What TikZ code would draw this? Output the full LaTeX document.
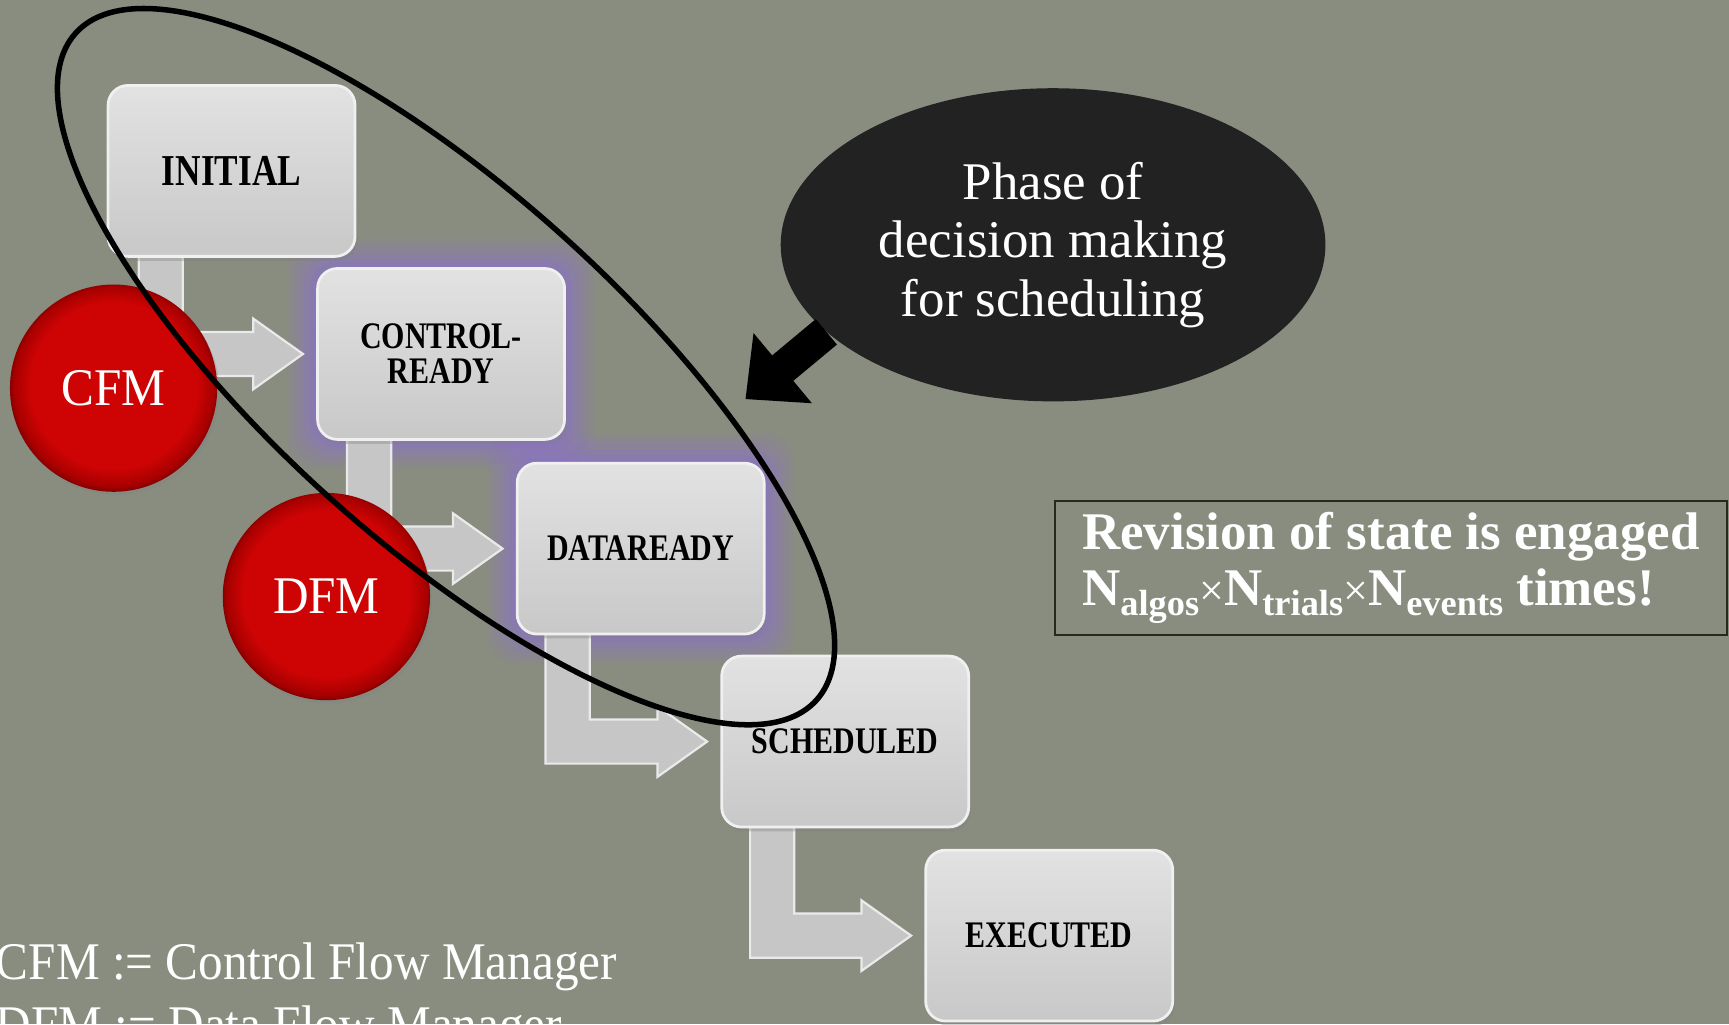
\documentclass[tikz,border=0pt]{standalone}
\usepackage{fontspec}
\usepackage{graphicx}
\setmainfont{Liberation Serif}
\newfontfamily\lblfont[FakeStretch=0.8]{Liberation Serif}
\newfontfamily\cndfont[FakeStretch=0.93]{Liberation Serif}
\usetikzlibrary{shapes.geometric,arrows.meta,calc,shadows}
\pgfdeclarelayer{bglayer}
\pgfdeclarelayer{glowlayer}
\pgfdeclarelayer{arrowlayer}
\pgfsetlayers{bglayer,glowlayer,arrowlayer,main}

\definecolor{bgc}{RGB}{137,141,127}
\definecolor{boxtop}{RGB}{226,226,226}
\definecolor{boxbot}{RGB}{200,200,200}
\definecolor{boxedge}{RGB}{240,240,240}
\definecolor{glowc}{RGB}{138,112,210}
\definecolor{redA}{RGB}{206,4,4}
\definecolor{redB}{RGB}{168,0,0}
\definecolor{redC}{RGB}{110,0,0}
\definecolor{bubblec}{RGB}{34,34,34}
\definecolor{framec}{RGB}{36,42,28}
\definecolor{arrfill}{RGB}{198,198,198}
\definecolor{arredge}{RGB}{234,234,234}

\pgfdeclareradialshading{redball}{\pgfpoint{0bp}{2bp}}{color(0bp)=(redA); color(20bp)=(redA); color(24bp)=(redB); color(26bp)=(redC); color(30bp)=(redC)}

\newcommand\sbs[1]{\raisebox{-9pt}{\fontsize{33}{33}\selectfont #1}}
\newcommand\crs{{\mdseries\fontsize{40}{40}\selectfont ×}}

% bent connector from the bottom of #1 (shaft at x-offset #2) into the west side of #3
\newcommand\flowarrow[3]{%
  \filldraw[flowar] let \p1=($(#1.south west)+(#2,0)$), \p2=($(#3.west)+(-12,0)$) in
  (\x1-20pt,\y1+4pt) -- (\x1-20pt,\y2-20pt) -- (\x2-45pt,\y2-20pt) -- (\x2-45pt,\y2-32pt)
  -- (\x2,\y2) -- (\x2-45pt,\y2+32pt) -- (\x2-45pt,\y2+20pt) -- (\x1+20pt,\y2+20pt)
  -- (\x1+20pt,\y1+4pt) -- cycle;}

\newcommand\glowbox[1]{%
  \foreach \e/\o in {26/0.10,21/0.12,16/0.15,11/0.18,6/0.22,2/0.25}{%
    \fill[glowc, opacity=\o, rounded corners=26] ($(#1.south west)+(-\e,\e)$) rectangle ($(#1.north east)+(\e,-\e)$);}}

\begin{document}
\begin{tikzpicture}[x=1pt,y=-1pt,
  statebox/.style={rectangle, rounded corners=18, minimum width=224, minimum height=155,
    inner sep=0, top color=boxtop, bottom color=boxbot, draw=boxedge, line width=2.5,
    font=\lblfont\bfseries\fontsize{34}{32}\selectfont, align=center, text=black,
    drop shadow={shadow xshift=2pt, shadow yshift=-4pt, opacity=0.35}},
  redcircle/.style={circle, minimum size=188, inner sep=0, shade, shading=redball,
    text=white, font=\cndfont\fontsize{48}{48}\selectfont,
    drop shadow={shadow xshift=2pt, shadow yshift=-3pt, opacity=0.3}},
  flowar/.style={fill=arrfill, draw=arredge, line width=2, line join=miter},
  blackarrow/.style={line width=30, black, -{Triangle[length=44pt,width=80pt]}},
  legend/.style={anchor=base west, text=white, inner sep=0, font=\cndfont\fontsize{48}{48}\selectfont}
]
\begin{pgfonlayer}{bglayer}
  \fill[bgc] (0,0) rectangle (1568,929);
\end{pgfonlayer}
\useasboundingbox (0,0) rectangle (1568,929);

% states
\node[statebox, font=\lblfont\bfseries\fontsize{40}{40}\selectfont] (initial) at (210,155) {INITIAL};
\node[statebox] (cr) at (400,321) {CONTROL-\\READY};
\node[statebox] (dr) at (581,497.5) {DATAREADY};
\node[statebox] (sch) at (766.5,672.5) {SCHEDULED};
\node[statebox] (exe) at (951.5,848.5) {EXECUTED};

\begin{pgfonlayer}{glowlayer}
  \glowbox{cr}
  \glowbox{dr}
\end{pgfonlayer}

\begin{pgfonlayer}{arrowlayer}
  \flowarrow{initial}{49}{cr}
  \flowarrow{cr}{48}{dr}
  \flowarrow{dr}{47}{sch}
  \flowarrow{sch}{47}{exe}
\end{pgfonlayer}

% managers
\node[redcircle] (cfm) at (103,352) {CFM};
\node[redcircle] (dfm) at (296,541) {DFM};

% phase outline
\node[draw=black, ellipse, line width=5, minimum width=904, minimum height=318,
      inner sep=0, rotate=-42] (phase) at (404.5,332.5) {};

% bubble
\node[ellipse, fill=bubblec, minimum width=494, minimum height=284, inner sep=0,
      text=white, align=center, font=\fontsize{48}{53}\selectfont] (bubble) at (955,222)
      {Phase of\\decision making\\for scheduling};
\coordinate (bubtip) at (676,362);
\draw[blackarrow] (bubble.201) -- (bubtip);

% revision box
\node[draw=framec, line width=1.8, anchor=north west, minimum width=609, minimum height=122,
      inner xsep=12, align=left, text=white,
      font=\bfseries\fontsize{48}{51}\selectfont] (rev) at (956,453)
      {Revision of state is engaged\\N\sbs{algos}\crs N\sbs{trials}\crs N\sbs{events} times!};

% legend
\node[legend] (legA) at (-4,888) {CFM := Control Flow Manager};
\node[legend] (legB) at (-4,945) {DFM := Data Flow Manager};
\end{tikzpicture}
\end{document}
